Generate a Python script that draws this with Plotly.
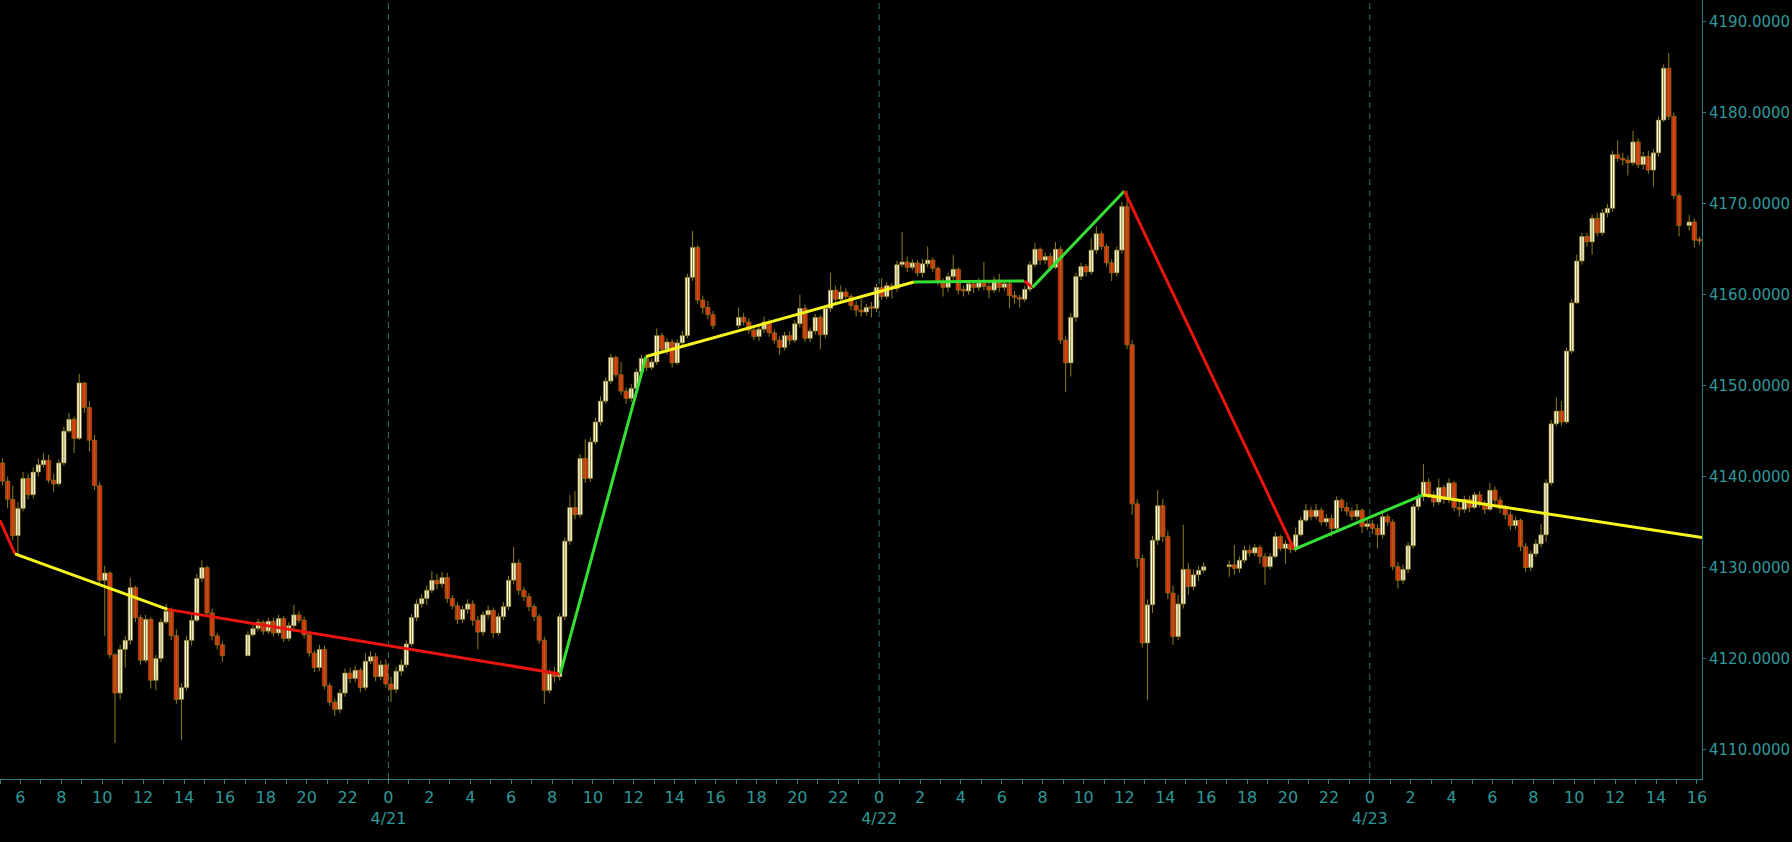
import pandas as pd
import plotly.graph_objects as go

# 15-minute bars (ES futures), open = previous close; None = no trading
first_open = 4141.5

close_0420 = [4139.5, 4137.5, 4133.5, 4136.5,
              4139.8, 4138.0, 4140.5, 4141.3,
              4141.8, 4139.6, 4139.2, 4141.5,
              4145.0, 4146.3, 4144.2, 4150.3,
              4147.6, 4144.0, 4139.0, 4128.6,
              4129.4, 4120.4, 4116.2, 4121.0,
              4122.0, 4127.8, 4124.5, 4119.8,
              4124.3, 4117.6, 4120.0, 4124.0,
              4125.2, 4122.5, 4115.5, 4116.8,
              4122.0, 4124.2, 4128.8, 4130.0,
              4125.0, 4122.5, 4121.5, 4120.3,
              None, None, None, None,
              4122.6, 4123.3, 4124.0, 4123.0,
              4124.1, 4122.8, 4124.4, 4122.2,
              4123.6, 4124.8, 4124.2, 4122.6,
              4120.6, 4119.0, 4121.0, 4117.0,
              4115.2, 4114.4, 4116.2, 4118.4,
              4117.8, 4118.7, 4116.8, 4119.7,
              4120.2, 4118.0, 4119.3, 4117.2]
high_0420 = [4142.0, 4140.0, 4139.0, 4137.2,
             4140.5, 4140.3, 4141.0, 4142.0,
             4142.6, 4142.4, 4140.3, 4141.9,
             4145.5, 4147.0, 4146.6, 4151.3,
             4150.4, 4148.3, 4144.6, 4139.4,
             4130.2, 4129.6, 4120.6, 4121.5,
             4122.5, 4128.9, 4128.0, 4124.8,
             4124.8, 4124.6, 4120.4, 4124.4,
             4126.0, 4125.6, 4123.2, 4117.3,
             4122.5, 4124.8, 4129.3, 4130.8,
             4130.2, 4125.5, 4122.8, 4121.9,
             None, None, None, None,
             4123.0, 4123.7, 4124.4, 4124.2,
             4124.5, 4124.5, 4124.8, 4124.7,
             4124.0, 4125.9, 4125.2, 4124.6,
             4122.9, 4120.9, 4121.5, 4121.4,
             4117.3, 4115.6, 4116.6, 4118.9,
             4119.0, 4119.2, 4119.0, 4120.6,
             4120.8, 4120.6, 4119.8, 4119.9]
low_0420 = [4139.0, 4136.5, 4133.0, 4131.5,
            4136.2, 4137.5, 4137.6, 4140.0,
            4141.0, 4139.3, 4138.3, 4139.0,
            4141.2, 4144.8, 4142.6, 4144.0,
            4147.0, 4142.8, 4138.5, 4128.2,
            4122.5, 4120.0, 4110.7, 4115.5,
            4119.0, 4121.5, 4124.0, 4119.3,
            4119.5, 4116.7, 4116.5, 4119.6,
            4123.8, 4122.0, 4115.0, 4111.0,
            4116.5, 4121.4, 4124.0, 4128.4,
            4124.6, 4122.0, 4121.0, 4119.6,
            None, None, None, None,
            4120.3, 4122.4, 4123.0, 4122.6,
            4122.7, 4122.4, 4122.5, 4121.8,
            4121.9, 4123.3, 4123.9, 4122.2,
            4120.2, 4118.5, 4118.6, 4116.6,
            4114.8, 4113.7, 4114.0, 4115.8,
            4117.3, 4117.4, 4116.3, 4116.5,
            4119.4, 4117.5, 4117.6, 4116.8]

close_0421 = [4116.6, 4118.6, 4119.3, 4121.6,
              4124.5, 4126.0, 4126.6, 4127.5,
              4128.6, 4128.2, 4128.9, 4126.6,
              4125.8, 4124.3, 4125.4, 4126.0,
              4124.2, 4122.9, 4124.8, 4125.3,
              4122.8, 4124.6, 4125.7, 4128.6,
              4130.5, 4127.5, 4126.8, 4125.7,
              4124.6, 4122.0, 4116.5, 4118.3,
              4118.0, 4124.6, 4132.9, 4136.6,
              4135.8, 4142.0, 4139.8, 4143.8,
              4146.0, 4148.3, 4150.5, 4153.1,
              4151.2, 4149.4, 4148.6, 4149.7,
              4151.5, 4153.0, 4152.0, 4152.6,
              4155.5, 4154.0, 4154.8, 4152.5,
              4154.7, 4155.5, 4161.9, 4165.2,
              4159.4, 4158.6, 4157.8, 4156.6,
              None, None, None, None,
              4157.5, 4157.0, 4156.1, 4155.4,
              4156.2, 4157.0, 4155.8, 4155.0,
              4154.2, 4155.5, 4155.0, 4156.8,
              4158.5, 4155.2, 4156.0, 4157.5,
              4155.6, 4158.5, 4160.5, 4159.5,
              4160.3, 4159.8, 4158.8, 4158.3,
              4158.1, 4158.6, 4158.5, 4160.8]
high_0421 = [4118.0, 4119.1, 4119.9, 4122.0,
             4124.9, 4126.5, 4127.1, 4128.0,
             4129.6, 4129.3, 4129.5, 4129.4,
             4127.0, 4126.2, 4125.8, 4126.5,
             4126.4, 4124.7, 4125.2, 4125.8,
             4125.6, 4125.0, 4126.2, 4129.1,
             4132.3, 4130.9, 4127.9, 4127.2,
             4126.0, 4124.9, 4122.4, 4118.8,
             4119.1, 4125.0, 4133.3, 4138.0,
             4138.4, 4142.5, 4144.1, 4144.3,
             4146.5, 4148.8, 4150.9, 4153.5,
             4153.3, 4152.6, 4149.8, 4150.2,
             4151.9, 4153.4, 4153.3, 4153.0,
             4156.3, 4155.8, 4155.2, 4155.1,
             4155.1, 4156.0, 4162.3, 4167.0,
             4165.5, 4159.9, 4159.3, 4158.2,
             None, None, None, None,
             4158.6, 4158.0, 4157.4, 4156.5,
             4156.8, 4157.6, 4157.3, 4156.2,
             4155.4, 4155.9, 4156.0, 4157.2,
             4160.0, 4158.9, 4156.4, 4157.9,
             4157.8, 4158.9, 4162.4, 4161.0,
             4161.0, 4160.7, 4160.1, 4159.3,
             4159.6, 4159.0, 4159.2, 4161.2]
low_0421 = [4115.2, 4116.2, 4118.1, 4119.0,
            4121.3, 4124.1, 4125.6, 4125.9,
            4127.2, 4127.6, 4127.8, 4126.1,
            4125.4, 4123.8, 4123.9, 4124.9,
            4123.6, 4121.0, 4122.5, 4124.3,
            4122.3, 4122.5, 4124.2, 4125.3,
            4128.2, 4127.0, 4126.3, 4125.2,
            4124.1, 4121.6, 4115.0, 4116.2,
            4117.4, 4117.6, 4124.2, 4132.5,
            4135.3, 4135.5, 4139.3, 4139.4,
            4143.5, 4145.6, 4148.0, 4150.2,
            4150.9, 4149.0, 4148.0, 4148.2,
            4149.4, 4151.2, 4151.6, 4151.7,
            4152.3, 4153.6, 4153.4, 4152.0,
            4152.3, 4154.3, 4155.2, 4161.5,
            4159.0, 4157.9, 4157.3, 4156.2,
            None, None, None, None,
            4156.3, 4156.6, 4155.7, 4155.0,
            4154.9, 4155.8, 4155.4, 4154.6,
            4153.4, 4153.9, 4154.5, 4154.7,
            4156.4, 4154.8, 4154.8, 4155.6,
            4154.0, 4155.2, 4158.1, 4159.0,
            4159.1, 4159.3, 4158.3, 4157.6,
            4157.6, 4157.7, 4157.5, 4158.1]

close_0422 = [4159.8, 4161.0, 4160.7, 4163.3,
              4163.6, 4163.0, 4163.5, 4162.4,
              4163.4, 4163.8, 4162.9, 4161.4,
              4160.8, 4162.0, 4162.8, 4160.5,
              4160.4, 4161.2, 4160.8, 4161.3,
              4160.9, 4160.5, 4161.6, 4160.8,
              4161.2, 4159.9, 4159.7, 4159.5,
              4160.6, 4163.3, 4165.0, 4163.8,
              4164.2, 4163.0, 4165.0, 4155.0,
              4152.5, 4157.5, 4162.0, 4163.1,
              4162.5, 4164.9, 4166.7, 4165.3,
              4163.5, 4162.4, 4164.9, 4169.7,
              4154.5, 4137.0, 4131.0, 4121.7,
              4125.9, 4133.0, 4136.8, 4133.4,
              4127.2, 4122.4, 4126.0, 4129.8,
              4127.9, 4129.2, 4129.7, 4130.1,
              None, None, None, None,
              4130.3, 4129.9, 4130.8, 4131.9,
              4131.6, 4132.2, 4131.2, 4130.1,
              4131.2, 4133.4, 4132.1, 4132.6,
              4132.0, 4133.6, 4135.2, 4136.3,
              4135.6, 4136.3, 4135.0, 4135.4,
              4134.3, 4137.4, 4136.6, 4136.2,
              4135.6, 4136.3, 4134.5, 4134.8]
high_0422 = [4161.8, 4161.4, 4161.3, 4163.7,
             4166.9, 4164.2, 4163.9, 4163.8,
             4163.9, 4165.3, 4164.1, 4163.1,
             4161.8, 4162.4, 4164.4, 4163.0,
             4161.0, 4161.6, 4161.6, 4161.8,
             4163.6, 4161.4, 4162.0, 4162.3,
             4161.6, 4161.5, 4160.4, 4160.0,
             4161.0, 4163.7, 4165.7, 4165.2,
             4164.6, 4164.6, 4165.8, 4165.3,
             4155.5, 4158.0, 4162.4, 4163.5,
             4163.4, 4166.2, 4167.5, 4167.0,
             4165.6, 4163.9, 4165.3, 4170.2,
             4171.4, 4155.0, 4137.5, 4131.4,
             4126.5, 4133.5, 4138.5, 4137.5,
             4134.0, 4128.0, 4127.0, 4134.7,
             4130.5, 4129.8, 4130.2, 4130.6,
             None, None, None, None,
             4130.8, 4132.5, 4131.2, 4132.4,
             4132.4, 4132.6, 4132.5, 4131.6,
             4131.6, 4133.9, 4133.6, 4133.0,
             4133.0, 4134.4, 4135.6, 4137.0,
             4136.7, 4137.0, 4136.6, 4135.9,
             4135.8, 4137.8, 4137.6, 4137.2,
             4136.6, 4137.0, 4136.5, 4135.3]
low_0422 = [4159.4, 4159.5, 4159.6, 4160.3,
            4163.0, 4162.5, 4162.7, 4162.0,
            4161.9, 4163.0, 4162.5, 4161.0,
            4159.8, 4160.3, 4161.6, 4160.0,
            4159.8, 4160.0, 4160.2, 4160.4,
            4160.5, 4159.6, 4160.2, 4160.3,
            4160.4, 4158.5, 4159.0, 4158.6,
            4159.2, 4160.3, 4163.0, 4163.3,
            4163.4, 4162.6, 4162.8, 4154.6,
            4149.3, 4151.0, 4157.0, 4161.6,
            4162.0, 4162.2, 4164.5, 4164.9,
            4163.1, 4161.5, 4162.0, 4164.5,
            4154.0, 4135.8, 4130.0, 4121.2,
            4115.4, 4125.0, 4132.5, 4132.8,
            4126.5, 4121.5, 4122.0, 4125.5,
            4127.0, 4127.5, 4128.5, 4129.4,
            None, None, None, None,
            4129.0, 4129.2, 4129.4, 4130.5,
            4131.2, 4131.3, 4130.4, 4128.1,
            4129.8, 4131.0, 4131.8, 4130.4,
            4131.6, 4131.7, 4133.4, 4135.0,
            4135.2, 4135.3, 4134.6, 4134.5,
            4133.4, 4134.0, 4136.2, 4135.7,
            4135.2, 4135.2, 4133.8, 4134.1]

close_0423 = [4134.3, 4133.6, 4135.6, 4135.0,
              4130.1, 4128.6, 4129.8, 4132.4,
              4136.7, 4137.8, 4139.4, 4138.0,
              4137.2, 4138.8, 4137.5, 4139.3,
              4136.6, 4136.4, 4137.5, 4136.6,
              4138.0, 4137.0, 4136.4, 4138.5,
              4137.4, 4136.5, 4135.8, 4134.6,
              4135.2, 4132.3, 4130.0, 4131.5,
              4132.6, 4133.6, 4139.3, 4145.8,
              4147.2, 4146.0, 4153.8, 4159.1,
              4163.7, 4166.4, 4165.8, 4168.4,
              4166.8, 4169.0, 4169.5, 4175.4,
              4175.0, 4174.8, 4174.5, 4176.8,
              4174.3, 4175.2, 4173.7, 4175.6,
              4179.2, 4184.9, 4179.6, 4170.9,
              4167.6, None, 4168.0, 4166.0,
              4165.9]
high_0423 = [4135.2, 4134.8, 4136.1, 4135.9,
             4135.3, 4130.6, 4130.3, 4132.8,
             4137.0, 4138.2, 4141.4, 4139.8,
             4138.4, 4139.8, 4139.1, 4139.8,
             4139.5, 4137.2, 4137.9, 4137.9,
             4138.3, 4138.4, 4137.4, 4139.3,
             4138.9, 4137.8, 4136.9, 4136.2,
             4135.6, 4135.4, 4132.7, 4131.9,
             4133.1, 4134.8, 4139.7, 4146.2,
             4148.7, 4148.3, 4154.2, 4159.5,
             4164.4, 4166.8, 4166.8, 4168.8,
             4169.0, 4169.4, 4170.0, 4175.8,
             4177.0, 4175.6, 4175.3, 4178.0,
             4177.2, 4175.7, 4175.8, 4176.0,
             4179.6, 4185.3, 4186.6, 4180.0,
             4171.2, None, 4168.8, 4168.4,
             4166.4]
low_0423 = [4133.7, 4132.1, 4133.2, 4134.6,
            4129.7, 4127.7, 4128.2, 4129.4,
            4132.1, 4136.3, 4137.3, 4137.6,
            4136.7, 4136.9, 4137.0, 4137.1,
            4136.2, 4135.6, 4136.0, 4136.1,
            4136.4, 4136.6, 4135.9, 4136.2,
            4137.0, 4136.0, 4135.3, 4134.1,
            4134.2, 4131.8, 4129.5, 4129.6,
            4131.2, 4132.2, 4132.8, 4139.0,
            4145.5, 4145.6, 4145.8, 4153.5,
            4159.0, 4163.3, 4165.3, 4164.4,
            4166.4, 4166.5, 4168.5, 4169.1,
            4174.6, 4174.2, 4173.1, 4174.2,
            4173.9, 4173.8, 4173.3, 4171.9,
            4175.2, 4179.0, 4179.2, 4170.5,
            4166.4, None, 4167.0, 4165.2,
            4165.5]

day_starts = ["2021-04-20 05:00", "2021-04-21 00:00", "2021-04-22 00:00", "2021-04-23 00:00"]

# zigzag overlay pivots
zz_time = ["2021-04-20 05:00", "2021-04-20 05:44", "2021-04-20 13:12", "2021-04-21 08:24",
           "2021-04-21 12:36", "2021-04-22 01:42", "2021-04-22 07:06", "2021-04-22 07:30",
           "2021-04-22 12:00", "2021-04-22 20:18", "2021-04-23 02:36", "2021-04-23 16:15"]
zz_price = [4135.2, 4131.5, 4125.4, 4118.3, 4153.2, 4161.4, 4161.5, 4160.8,
            4171.4, 4132.0, 4138.0, 4133.3]
zz_color = ["red", "yellow", "red", "green", "yellow", "green", "red", "green",
            "red", "green", "yellow"]

x_start, x_end = "2021-04-20 05:00", "2021-04-23 16:15"
y_lo, y_hi = 4106.75, 4192.4

TEAL = "#2f9898"
AXIS = "#2a7d7d"
OLIVE = "#8c7c1c"
palette = {"red": "#e8160e", "green": "#33e033", "yellow": "#f6f61e"}

# assemble bars
days = [(day_starts[0], close_0420, high_0420, low_0420),
        (day_starts[1], close_0421, high_0421, low_0421),
        (day_starts[2], close_0422, high_0422, low_0422),
        (day_starts[3], close_0423, high_0423, low_0423)]

t, o, h, l, c = [], [], [], [], []
prev = first_open
for start, cl, hi, lo in days:
    stamps = pd.date_range(start, periods=len(cl), freq="15min") + pd.Timedelta(minutes=7.5)
    for ts, cc, hh, ll in zip(stamps, cl, hi, lo):
        if cc is None:
            continue
        t.append(ts)
        o.append(prev)
        c.append(cc)
        h.append(max(hh, prev, cc))
        l.append(min(ll, prev, cc))
        prev = cc

# wicks as one broken line
wx, wy = [], []
for ts, hh, ll in zip(t, h, l):
    wx += [ts, ts, None]
    wy += [ll, hh, None]

up_x, up_base, up_len, dn_x, dn_base, dn_len = [], [], [], [], [], []
for ts, oo, cc in zip(t, o, c):
    size = max(abs(cc - oo), 0.2)
    if cc >= oo:
        up_x.append(ts); up_base.append(oo); up_len.append(size)
    else:
        dn_x.append(ts); dn_base.append(cc); dn_len.append(size)

bar_ms = 13 * 60 * 1000

fig = go.Figure()

fig.add_trace(go.Scatter(x=wx, y=wy, mode="lines", line=dict(color=OLIVE, width=1),
                         showlegend=False, hoverinfo="skip"))
fig.add_trace(go.Bar(x=up_x, y=up_len, base=up_base, width=bar_ms,
                     marker=dict(color="#fffde6", line=dict(color=OLIVE, width=0.6)),
                     showlegend=False, hoverinfo="skip"))
fig.add_trace(go.Bar(x=dn_x, y=dn_len, base=dn_base, width=bar_ms,
                     marker=dict(color="#e8230a", line=dict(color=OLIVE, width=0.6)),
                     showlegend=False, hoverinfo="skip"))

for i, col in enumerate(zz_color):
    fig.add_trace(go.Scatter(
        x=[zz_time[i], zz_time[i + 1]], y=[zz_price[i], zz_price[i + 1]],
        mode="lines", line=dict(color=palette[col], width=3),
        showlegend=False, hoverinfo="skip",
    ))

# dashed separators at each midnight
for d in day_starts[1:]:
    fig.add_vline(x=d, line=dict(color="#2a7272", width=1, dash="6px,5px"), layer="below")

# x ticks every 2 hours, date under midnight
tick_times = pd.date_range("2021-04-20 06:00", "2021-04-23 16:00", freq="2h")
tick_text = []
for ts in tick_times:
    if ts.hour == 0:
        tick_text.append(f"{ts.hour}<br>{ts.month}/{ts.day}")
    else:
        tick_text.append(str(ts.hour))

fig.update_layout(
    width=1792, height=842,
    paper_bgcolor="black", plot_bgcolor="black",
    margin=dict(l=0, r=90, t=0, b=63),
    barmode="overlay",
    font=dict(family="DejaVu Sans", size=15, color=TEAL),
    xaxis=dict(
        type="date", range=[x_start, x_end],
        tickmode="array", tickvals=tick_times, ticktext=tick_text,
        showgrid=False, zeroline=False,
        showline=True, linecolor=AXIS, linewidth=1,
        ticks="outside", ticklen=4, tickcolor=AXIS,
        minor=dict(ticks="outside", ticklen=4, dtick=3600000,
                   tick0="2021-04-20 00:00", tickcolor=AXIS),
        tickfont=dict(size=16, color=TEAL),
    ),
    yaxis=dict(
        side="right", range=[y_lo, y_hi], dtick=10, tick0=4110,
        tickformat=".4f", showgrid=False, zeroline=False,
        showline=True, linecolor=AXIS, linewidth=1,
        ticks="outside", ticklen=3, tickcolor=AXIS,
        tickfont=dict(size=15, color=TEAL),
    ),
)

fig.write_html("out.html", config={"displayModeBar": False},
               post_script="document.body.style.margin='0px';")
